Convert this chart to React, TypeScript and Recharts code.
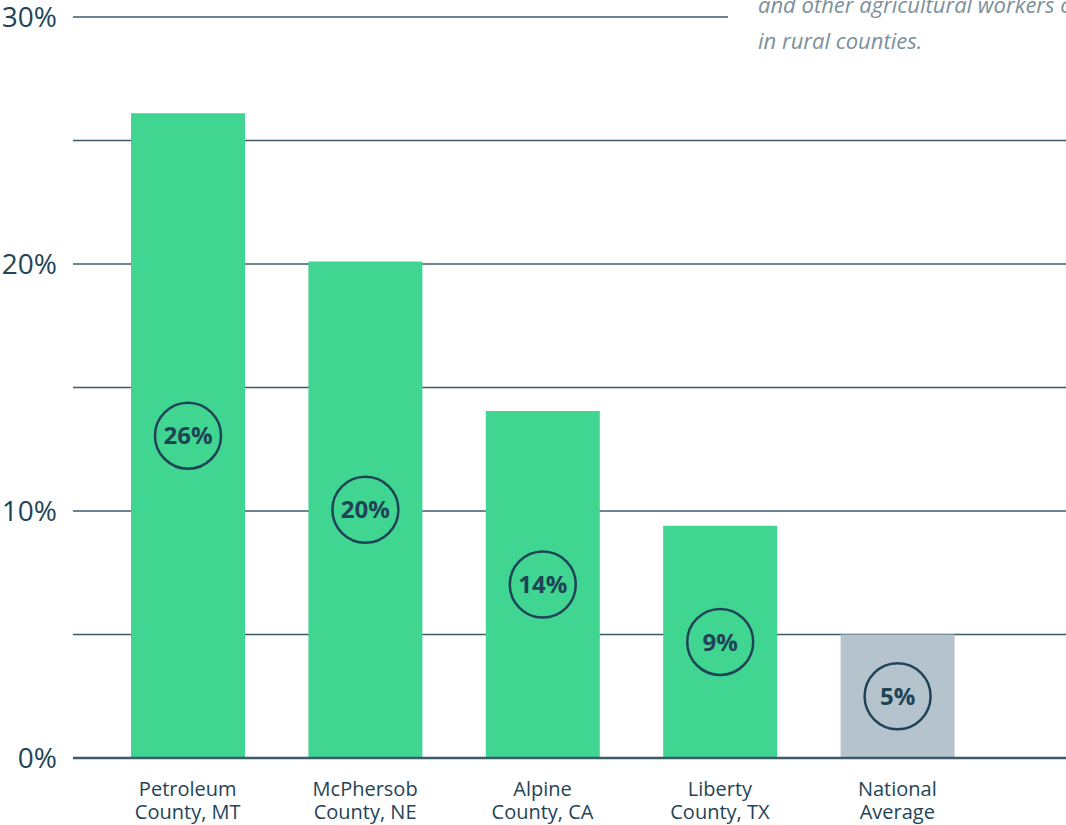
import React from 'react';
import { BarChart, Bar, XAxis, YAxis, CartesianGrid, Cell, LabelList } from 'recharts';

const categories = [
  'Petroleum\nCounty, MT',
  'McPhersob\nCounty, NE',
  'Alpine\nCounty, CA',
  'Liberty\nCounty, TX',
  'National\nAverage',
];
const shares = [26.1, 20.1, 14.05, 9.4, 5.0];
const yTicks = [0, 10, 20, 30];
const gridValues = [0, 5, 10, 15, 20, 25, 30];
const noteLines = ['and other agricultural workers c', 'in rural counties.'];

const INK = '#1f4457';
const GRID = '#3d5a69';
const GREEN = '#41d592';
const GREY = '#b5c3cd';
const FONT = '"Open Sans", sans-serif';

const data = categories.map((c, i) => ({ name: c, value: shares[i] }));

const CountyTick = (props: any) => {
  const { x, y, payload } = props;
  const lines = String(payload.value).split('\n');
  return (
    <g transform={`translate(${x},${y})`}>
      {lines.map((l, i) => (
        <text key={i} x={0} y={30 + i * 23} textAnchor="middle" fill={INK} fontSize={20} fontWeight={500} fontFamily={FONT}>
          {l}
        </text>
      ))}
    </g>
  );
};

const Badge = (props: any) => {
  const { x, y, width, height, value } = props;
  const cx = x + width / 2;
  const cy = y + height / 2;
  return (
    <g>
      <circle cx={cx} cy={cy} r={33} fill="none" stroke={INK} strokeWidth={2.5} />
      <text x={cx} y={cy} dy="0.36em" textAnchor="middle" fill={INK} fontSize={24} fontWeight={700} fontFamily={FONT}>
        {Math.round(value)}%
      </text>
    </g>
  );
};

// top line stops short of the note in the corner
const GridLine = (p: any) => (
  <line
    x1={p.x1}
    y1={p.y1}
    x2={p.y1 < 30 ? 728 : p.x2}
    y2={p.y2}
    stroke={GRID}
    strokeWidth={1.5}
  />
);

export default function App() {
  return (
    <div style={{ position: 'absolute', left: 0, top: 0, width: 1066, height: 825, overflow: 'hidden', background: '#fff', fontFamily: FONT }}>
      <BarChart width={1066} height={825} data={data} margin={{ top: 17, right: 0, bottom: 0, left: 0 }} barSize={114}>
        <CartesianGrid vertical={false} horizontalValues={gridValues} horizontal={GridLine} />
        <XAxis
          dataKey="name"
          tick={<CountyTick />}
          tickLine={false}
          axisLine={{ stroke: GRID, strokeWidth: 2.5 }}
          padding={{ left: 26, right: 80 }}
          interval={0}
          height={67}
        />
        <YAxis
          domain={[0, 30]}
          ticks={yTicks}
          width={73}
          tickSize={0}
          tickMargin={16}
          axisLine={false}
          tickLine={false}
          tickFormatter={(v) => `${v}%`}
          tick={{ fill: INK, fontSize: 28, fontWeight: 400, fontFamily: FONT }}
        />
        <Bar dataKey="value" isAnimationActive={false}>
          {data.map((_, i) => (
            <Cell key={i} fill={i === data.length - 1 ? GREY : GREEN} />
          ))}
          <LabelList dataKey="value" content={<Badge />} />
        </Bar>
      </BarChart>
      <div style={{ position: 'absolute', left: 758, top: -14, color: '#7c909b', fontStyle: 'italic', fontSize: 22, lineHeight: '36px', whiteSpace: 'nowrap' }}>
        {noteLines.map((l, i) => (
          <div key={i}>{l}</div>
        ))}
      </div>
    </div>
  );
}
